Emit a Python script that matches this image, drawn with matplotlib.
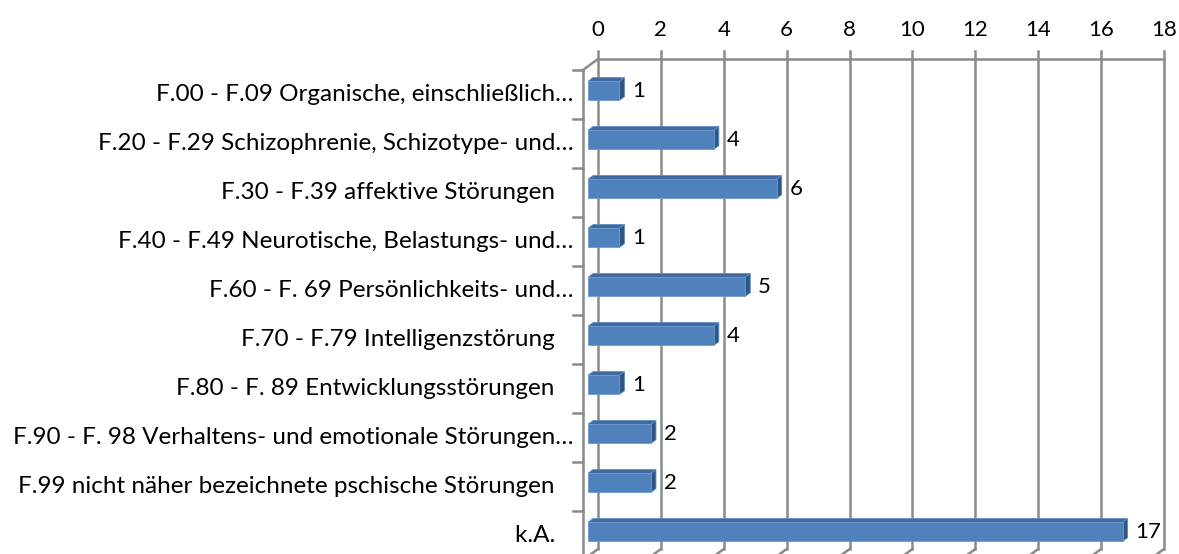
import matplotlib.pyplot as plt
from matplotlib.patches import Polygon

# data
categories = [
    "F.00 - F.09 Organische, einschließlich…",
    "F.20 - F.29 Schizophrenie, Schizotype- und…",
    "F.30 - F.39 affektive Störungen   ",
    "F.40 - F.49 Neurotische, Belastungs- und…",
    "F.60 - F. 69 Persönlichkeits- und…",
    "F.70 - F.79 Intelligenzstörung   ",
    "F.80 - F. 89 Entwicklungsstörungen   ",
    "F.90 - F. 98 Verhaltens- und emotionale Störungen…",
    "F.99 nicht näher bezeichnete pschische Störungen   ",
    "k.A.   ",
]
values = [1, 4, 6, 1, 5, 4, 1, 2, 2, 17]
xticks = list(range(0, 19, 2))

W, H = 1179, 554
fig = plt.figure(figsize=(W / 100, H / 100), dpi=100)
plt.rcParams['font.family'] = ['Lato', 'DejaVu Sans']

# front plane of the 3d box in pixels
x0, x1 = 583, 1149
y0, y1 = 70, 560
ax = fig.add_axes([x0 / W, (H - y1) / H, (x1 - x0) / W, (y1 - y0) / H])
ax.set_xlim(0, 18)
ax.set_ylim(len(categories), 0)
ax.axis('off')

# depth offset (front -> back wall) in data units
DX = 15 / ((x1 - x0) / 18)
DY = -11 / ((y1 - y0) / len(categories))
grid_c = '#8a8a8a'
n = len(categories)

# back wall gridlines + floor lines
for t in xticks:
    ax.plot([t + DX, t + DX], [DY - 0.17, n + DY], color=grid_c, lw=1.8, clip_on=False, zorder=1)
    ax.plot([t + DX, t], [n + DY, n], color=grid_c, lw=1.8, clip_on=False, zorder=1)
    ax.text(t + DX, DY - 0.6, str(t), ha='center', va='center', fontsize=16, clip_on=False)
ax.plot([DX, 18 + DX], [DY, DY], color=grid_c, lw=1.8, clip_on=False, zorder=1)

# left wall: front axis line, top diagonal, ticks
ax.plot([0, 0], [0, n], color=grid_c, lw=1.8, clip_on=False, zorder=1)
ax.plot([0, DX], [0, DY], color=grid_c, lw=1.8, clip_on=False, zorder=1)
for i in range(n + 1):
    ax.plot([-0.32, 0], [i, i], color=grid_c, lw=1.8, clip_on=False, zorder=1)

# 3d bars
f0, bd, h = 0.33, 0.34, 0.39
front_c, top_c, side_c = '#4f81bd', '#40699d', '#2f5584'
for i, (cat, v) in enumerate(zip(categories, values)):
    bx = f0 * DX
    by = i + 0.5 + f0 * DY
    top = by - h / 2
    bot = by + h / 2
    ox, oy = bd * DX, bd * DY
    ax.add_patch(Polygon([(bx, top), (bx + v, top), (bx + v + ox, top + oy), (bx + ox, top + oy)],
                         closed=True, fc=top_c, ec='#5b8cc6', lw=0.6, zorder=3, clip_on=False))
    ax.add_patch(Polygon([(bx + v, top), (bx + v, bot), (bx + v + ox, bot + oy), (bx + v + ox, top + oy)],
                         closed=True, fc=side_c, ec='#5b8cc6', lw=0.6, zorder=3, clip_on=False))
    ax.barh(by, v, left=bx, height=h, color=front_c, edgecolor='#6f9ad0', lw=0.6, zorder=4)
    ax.text(bx + v + ox + 0.25, by, str(v), ha='left', va='center', fontsize=16, zorder=5)
    ax.text(-0.3, i + 0.5, cat, ha='right', va='center', fontsize=17.5, clip_on=False)

fig.savefig('out.png', dpi=100)
